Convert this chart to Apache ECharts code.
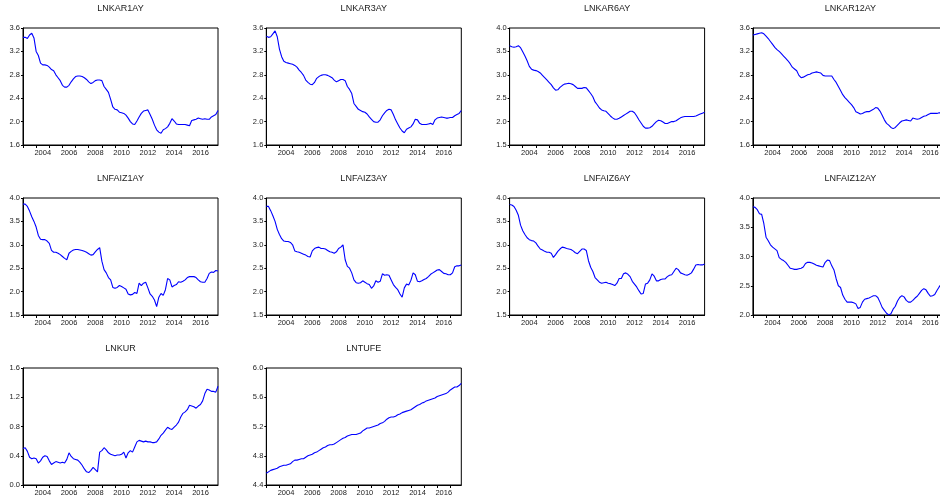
<!DOCTYPE html>
<html>
<head>
<meta charset="utf-8">
<script src="https://cdn.jsdelivr.net/npm/echarts@6/dist/echarts.min.js"></script>
<style>
  html, body { margin: 0; padding: 0; background: #fff; }
  #main { width: 940px; height: 498px; }
</style>
</head>
<body>
<div id="main"></div>
<script>
// bi-monthly observations, 2003-01 .. 2017-11
var months = [];
for (var k = 0; k < 90; k++) {
    var yy = 2003 + Math.floor(k / 6);
    var mm = 1 + 2 * (k % 6);
    months.push(yy + '-' + (mm < 10 ? '0' + mm : mm));
}

var lnkar1ay = [3.44,3.44,3.42,3.48,3.51,3.43,3.20,3.13,3.00,2.97,2.97,2.96,2.93,2.89,2.87,2.80,2.75,2.70,
    2.62,2.59,2.59,2.62,2.68,2.73,2.77,2.78,2.78,2.77,2.75,2.72,2.68,2.65,2.67,2.70,2.71,2.71,
    2.70,2.60,2.55,2.50,2.38,2.25,2.21,2.20,2.16,2.15,2.14,2.11,2.06,2.00,1.96,1.95,2.01,2.08,
    2.14,2.18,2.19,2.20,2.12,2.04,1.94,1.86,1.82,1.80,1.86,1.88,1.91,1.97,2.05,2.01,1.96,1.95,
    1.95,1.95,1.95,1.94,1.93,2.02,2.03,2.04,2.06,2.05,2.04,2.05,2.04,2.04,2.08,2.10,2.12,2.19];

var lnkar3ay = [3.46,3.44,3.45,3.50,3.55,3.45,3.24,3.11,3.03,3.01,3.00,2.99,2.98,2.96,2.93,2.88,2.84,2.79,
    2.71,2.67,2.64,2.63,2.67,2.74,2.77,2.79,2.80,2.80,2.79,2.77,2.75,2.71,2.68,2.70,2.72,2.72,
    2.70,2.60,2.55,2.48,2.31,2.26,2.21,2.19,2.17,2.16,2.13,2.08,2.04,2.00,1.99,1.99,2.03,2.10,
    2.15,2.19,2.21,2.20,2.12,2.03,1.96,1.89,1.84,1.81,1.87,1.89,1.91,1.96,2.04,2.03,1.97,1.95,
    1.95,1.95,1.96,1.97,1.95,2.03,2.06,2.07,2.08,2.07,2.06,2.06,2.07,2.07,2.10,2.12,2.14,2.19];

var lnkar6ay = [3.62,3.60,3.59,3.60,3.62,3.58,3.49,3.40,3.30,3.18,3.12,3.10,3.09,3.07,3.04,2.99,2.94,2.89,
    2.84,2.79,2.72,2.67,2.68,2.73,2.77,2.80,2.81,2.82,2.81,2.79,2.75,2.71,2.71,2.71,2.73,2.72,
    2.66,2.60,2.53,2.42,2.36,2.29,2.25,2.23,2.22,2.17,2.12,2.08,2.05,2.05,2.07,2.10,2.13,2.16,
    2.19,2.22,2.22,2.19,2.12,2.04,1.97,1.90,1.86,1.86,1.87,1.90,1.95,2.00,2.03,2.02,1.99,1.96,
    1.96,1.98,2.00,2.00,2.02,2.05,2.08,2.10,2.11,2.11,2.11,2.11,2.11,2.12,2.14,2.16,2.18,2.20];

var lnkar12ay = [3.48,3.49,3.50,3.51,3.52,3.50,3.46,3.42,3.37,3.32,3.27,3.23,3.20,3.16,3.12,3.08,3.04,2.99,
    2.93,2.90,2.87,2.79,2.75,2.76,2.78,2.80,2.81,2.83,2.84,2.85,2.84,2.83,2.79,2.78,2.78,2.78,
    2.78,2.72,2.67,2.60,2.53,2.46,2.41,2.37,2.33,2.29,2.24,2.17,2.15,2.13,2.14,2.16,2.17,2.17,
    2.19,2.21,2.24,2.23,2.18,2.11,2.03,1.97,1.94,1.90,1.88,1.90,1.94,1.98,2.01,2.02,2.03,2.02,
    2.01,2.06,2.05,2.04,2.05,2.07,2.09,2.10,2.12,2.14,2.14,2.14,2.14,2.15,2.15,2.16,2.16,2.17];

var lnfaiz1ay = [3.87,3.87,3.82,3.72,3.60,3.50,3.38,3.20,3.12,3.11,3.11,3.08,3.03,2.88,2.84,2.84,2.82,2.79,
    2.75,2.71,2.68,2.82,2.86,2.89,2.90,2.90,2.89,2.88,2.86,2.84,2.81,2.78,2.79,2.85,2.90,2.94,
    2.65,2.47,2.40,2.30,2.25,2.09,2.07,2.09,2.13,2.11,2.08,2.05,1.95,1.93,1.94,1.98,1.96,2.18,
    2.13,2.18,2.20,2.08,1.95,1.90,1.82,1.68,1.88,1.96,1.92,2.04,2.28,2.25,2.10,2.13,2.15,2.21,
    2.20,2.22,2.25,2.30,2.32,2.32,2.32,2.30,2.25,2.21,2.20,2.20,2.28,2.39,2.42,2.41,2.45,2.44];

var lnfaiz3ay = [3.82,3.82,3.73,3.62,3.50,3.33,3.22,3.13,3.08,3.07,3.07,3.05,3.00,2.87,2.85,2.84,2.82,2.80,
    2.78,2.75,2.74,2.87,2.92,2.94,2.95,2.92,2.92,2.91,2.88,2.85,2.84,2.82,2.85,2.92,2.95,3.00,
    2.68,2.54,2.50,2.40,2.25,2.19,2.18,2.19,2.23,2.20,2.17,2.15,2.07,2.12,2.23,2.20,2.22,2.38,
    2.35,2.36,2.35,2.25,2.15,2.09,2.04,1.95,1.88,2.08,2.16,2.14,2.24,2.40,2.36,2.22,2.21,2.23,
    2.26,2.28,2.32,2.37,2.40,2.43,2.46,2.47,2.43,2.39,2.38,2.36,2.36,2.40,2.53,2.55,2.55,2.57];

var lnfaiz6ay = [3.86,3.85,3.82,3.74,3.63,3.42,3.30,3.22,3.15,3.11,3.09,3.08,3.04,2.97,2.91,2.89,2.86,2.84,
    2.84,2.82,2.73,2.79,2.86,2.91,2.95,2.94,2.92,2.91,2.90,2.87,2.83,2.81,2.86,2.91,2.91,2.88,
    2.66,2.52,2.43,2.30,2.25,2.20,2.18,2.19,2.20,2.18,2.17,2.15,2.13,2.18,2.28,2.28,2.38,2.40,
    2.37,2.32,2.22,2.16,2.10,2.02,1.95,1.96,2.16,2.18,2.25,2.38,2.33,2.23,2.23,2.26,2.27,2.27,
    2.32,2.35,2.36,2.43,2.50,2.47,2.40,2.38,2.36,2.35,2.37,2.40,2.48,2.57,2.58,2.57,2.57,2.59];

var lnfaiz12ay = [3.85,3.84,3.80,3.73,3.72,3.56,3.33,3.27,3.20,3.16,3.13,3.10,2.98,2.95,2.93,2.90,2.85,2.80,
    2.79,2.78,2.78,2.79,2.80,2.82,2.88,2.90,2.90,2.89,2.87,2.85,2.84,2.83,2.82,2.90,2.94,2.93,
    2.84,2.77,2.62,2.50,2.47,2.34,2.27,2.22,2.22,2.22,2.21,2.19,2.11,2.13,2.22,2.27,2.28,2.29,
    2.31,2.33,2.33,2.30,2.22,2.13,2.08,2.03,2.00,2.02,2.10,2.15,2.24,2.30,2.33,2.31,2.25,2.22,
    2.22,2.25,2.29,2.32,2.37,2.42,2.45,2.43,2.37,2.32,2.33,2.35,2.42,2.48,2.53,2.58,2.60,2.62];

var lnkur = [0.50,0.51,0.46,0.38,0.36,0.37,0.36,0.30,0.33,0.38,0.40,0.39,0.33,0.28,0.30,0.32,0.31,0.30,
    0.31,0.30,0.35,0.44,0.39,0.36,0.35,0.34,0.31,0.27,0.22,0.18,0.17,0.20,0.24,0.21,0.18,0.45,
    0.47,0.51,0.48,0.44,0.42,0.41,0.40,0.41,0.41,0.42,0.45,0.37,0.44,0.47,0.45,0.52,0.59,0.61,
    0.60,0.59,0.60,0.59,0.59,0.58,0.58,0.59,0.63,0.68,0.71,0.75,0.79,0.77,0.76,0.79,0.82,0.86,
    0.93,0.98,1.00,1.03,1.09,1.08,1.07,1.05,1.08,1.10,1.15,1.25,1.31,1.30,1.28,1.28,1.27,1.35];

var lntufe = [4.56,4.58,4.60,4.61,4.62,4.63,4.65,4.66,4.67,4.67,4.68,4.69,4.72,4.74,4.74,4.75,4.76,4.76,
    4.78,4.80,4.81,4.82,4.84,4.85,4.87,4.89,4.91,4.92,4.94,4.95,4.95,4.96,4.98,5.00,5.02,5.04,
    5.05,5.07,5.08,5.09,5.09,5.09,5.10,5.11,5.14,5.16,5.18,5.18,5.19,5.20,5.21,5.22,5.24,5.25,
    5.27,5.30,5.32,5.33,5.33,5.34,5.36,5.37,5.39,5.40,5.41,5.42,5.43,5.45,5.47,5.49,5.50,5.52,
    5.53,5.55,5.56,5.57,5.58,5.59,5.61,5.62,5.63,5.64,5.65,5.67,5.70,5.72,5.74,5.74,5.76,5.79];

var names = ['LNKAR1AY', 'LNKAR3AY', 'LNKAR6AY', 'LNKAR12AY',
             'LNFAIZ1AY', 'LNFAIZ3AY', 'LNFAIZ6AY', 'LNFAIZ12AY',
             'LNKUR', 'LNTUFE'];
var seriesData = [lnkar1ay, lnkar3ay, lnkar6ay, lnkar12ay,
                  lnfaiz1ay, lnfaiz3ay, lnfaiz6ay, lnfaiz12ay,
                  lnkur, lntufe];
// y scale of each panel: [min, max, step]
var yScales = [[1.6, 3.6, 0.4], [1.6, 3.6, 0.4], [1.5, 4.0, 0.5], [1.6, 3.6, 0.4],
               [1.5, 4.0, 0.5], [1.5, 4.0, 0.5], [1.5, 4.0, 0.5], [2.0, 4.0, 0.5],
               [0.0, 1.6, 0.4], [4.4, 6.0, 0.4]];

var chart = echarts.init(document.getElementById('main'));

var grids = [], xAxes = [], yAxes = [], series = [], titles = [];
var PW = 195, PH = 117;   // plot size of each small panel

names.forEach(function (name, n) {
    var col = n % 4, row = Math.floor(n / 4);
    var left = 23 + col * 243.3;
    var top = 28 + row * 170;
    grids.push({
        left: left, top: top, width: PW, height: PH,
        outerBoundsMode: 'none',   // last column runs off the page, like the original
        show: true, borderColor: '#000', borderWidth: 1, backgroundColor: '#fff'
    });
    xAxes.push({
        type: 'category', gridIndex: n, data: months, boundaryGap: false,
        axisLine: { show: true, lineStyle: { color: '#000', width: 1 } },
        // tick at every January, label in the middle of even years
        axisTick: { show: true, length: 3, interval: function (i) { return i % 6 === 0; },
                    lineStyle: { color: '#000' } },
        axisLabel: {
            interval: function (i) { return i % 12 === 9; },
            formatter: function (v) { return v.slice(0, 4); },
            fontSize: 7.5, color: '#222', margin: 4, fontFamily: 'Liberation Sans, Arial'
        },
        splitLine: { show: false }
    });
    var sc = yScales[n];
    yAxes.push({
        type: 'value', gridIndex: n, min: sc[0], max: sc[1], interval: sc[2],
        axisLine: { show: true, lineStyle: { color: '#000', width: 1 } },
        axisTick: { show: true, length: 2, lineStyle: { color: '#000' } },
        axisLabel: {
            formatter: function (v) { return v.toFixed(1); },
            fontSize: 7.5, color: '#222', margin: 3, fontFamily: 'Liberation Sans, Arial'
        },
        splitLine: { show: false }
    });
    series.push({
        name: name, type: 'line', xAxisIndex: n, yAxisIndex: n,
        data: seriesData[n], showSymbol: false,
        lineStyle: { color: '#0000ff', width: 1.1 }
    });
    // title text centred over the plot
    titles.push({
        type: 'text',
        x: left + PW / 2,
        y: top - 19,
        style: { text: name, textAlign: 'center', textVerticalAlign: 'middle',
                 fontSize: 9, fill: '#222', fontFamily: 'Liberation Sans, Arial' }
    });
});

chart.setOption({
    animation: false,
    backgroundColor: '#fff',
    grid: grids,
    xAxis: xAxes,
    yAxis: yAxes,
    series: series,
    graphic: titles
});
</script>
</body>
</html>
